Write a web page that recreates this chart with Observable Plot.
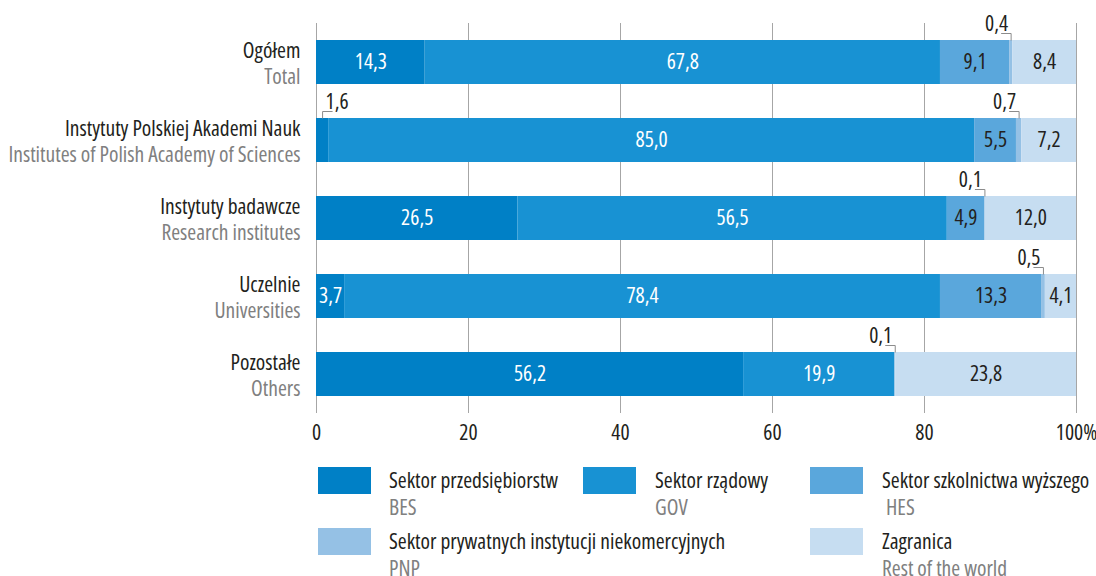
<!DOCTYPE html>
<html>
<head>
<meta charset="utf-8">
<script src="https://cdn.jsdelivr.net/npm/d3@7"></script>
<script src="https://cdn.jsdelivr.net/npm/@observablehq/plot@0.6"></script>
<style>
  html, body { margin: 0; padding: 0; background: #fff; }
  #wrap { position: relative; width: 1096px; height: 576px; font-family: "Open Sans", sans-serif; font-stretch: 86%; font-size: 21.5px; color: #231f20; }
  #chart { position: absolute; left: 0; top: 0; }
  #chart svg text { font-stretch: 86%; }
  .sw { position: absolute; width: 53px; height: 27px; }
  .lg { position: absolute; line-height: 27px; white-space: nowrap; }
  .lg .en { color: #808080; }
</style>
</head>
<body>
<div id="wrap">
  <div id="chart"></div>
  <div id="legend"></div>
</div>
<script>
// ---- data ----
const categoriesPL = ["Ogółem", "Instytuty Polskiej Akademi Nauk", "Instytuty badawcze", "Uczelnie", "Pozostałe"];
const categoriesEN = ["Total", "Institutes of Polish Academy of Sciences", "Research institutes", "Universities", "Others"];
const sectors = ["BES", "GOV", "HES", "PNP", "ROW"];
const sectorNamesPL = ["Sektor przedsiębiorstw", "Sektor rządowy", "Sektor szkolnictwa wyższego", "Sektor prywatnych instytucji niekomercyjnych", "Zagranica"];
const sectorNamesEN = ["BES", "GOV", "HES", "PNP", "Rest of the world"];
const sectorColors = ["#0080c6", "#1892d3", "#5aa7dc", "#95c1e5", "#c6ddf1"];
const valuesBES = [14.3, 1.6, 26.5, 3.7, 56.2];
const valuesGOV = [67.8, 85.0, 56.5, 78.4, 19.9];
const valuesHES = [9.1, 5.5, 4.9, 13.3, 0];
const valuesPNP = [0.4, 0.7, 0.1, 0.5, 0.1];
const valuesROW = [8.4, 7.2, 12.0, 4.1, 23.8];
const xTicks = [0, 20, 40, 60, 80, 100];

// ---- build table ----
const seriesValues = [valuesBES, valuesGOV, valuesHES, valuesPNP, valuesROW];
const segs = [];
categoriesPL.forEach((cat, i) => {
  let acc = 0;
  sectors.forEach((s, j) => {
    const v = seriesValues[j][i];
    segs.push({cat, sector: s, idx: j, value: v, x1: acc, x2: acc + v, center: acc + v / 2});
    acc += v;
  });
});
const fmt = v => v.toFixed(1).replace(".", ",");
const inside = segs.filter(d => d.value >= 2);
const insideLight = inside.filter(d => d.idx <= 1);
const insideDark = inside.filter(d => d.idx > 1);
const callouts = segs.filter(d => d.value > 0 && d.value < 2);
const calloutsLeft = callouts.filter(d => d.center >= 5);
const calloutsRight = callouts.filter(d => d.center < 5);
const rows = categoriesPL.map((pl, i) => ({pl, en: categoriesEN[i]}));

const bracketLeft = {draw(ctx) { ctx.moveTo(-10, -7); ctx.lineTo(0, -7); ctx.lineTo(0, 0); }};
const bracketRight = {draw(ctx) { ctx.moveTo(10, -7); ctx.lineTo(0, -7); ctx.lineTo(0, 0); }};

const chart = Plot.plot({
  width: 1096,
  height: 455,
  marginLeft: 316,
  marginRight: 20,
  marginTop: 23,
  marginBottom: 42,
  style: {fontFamily: '"Open Sans", sans-serif', fontSize: "21.5px", color: "#231f20", background: "white", overflow: "visible"},
  x: {domain: [0, 100], label: null},
  y: {domain: categoriesPL, paddingInner: 0.436, paddingOuter: 0.218, axis: null},
  color: {domain: sectors, range: sectorColors},
  marks: [
    Plot.gridX(xTicks, {stroke: "#a6a6a6", strokeOpacity: 1, strokeWidth: 1}),
    Plot.barX(segs, {x1: "x1", x2: "x2", y: "cat", fill: "sector"}),
    Plot.text(insideLight, {x: "center", y: "cat", text: d => fmt(d.value), fill: "white"}),
    Plot.text(insideDark, {x: "center", y: "cat", text: d => fmt(d.value), fill: "#231f20"}),
    Plot.dot(calloutsLeft, {x: "center", y: "cat", dy: -22, symbol: bracketLeft, stroke: "#8c8c8c", fill: "none", strokeWidth: 1}),
    Plot.dot(calloutsRight, {x: "center", y: "cat", dy: -22, symbol: bracketRight, stroke: "#8c8c8c", fill: "none", strokeWidth: 1}),
    Plot.text(calloutsLeft, {x: "center", y: "cat", dy: -38, dx: -3, textAnchor: "end", text: d => fmt(d.value), fill: "#231f20"}),
    Plot.text(calloutsRight, {x: "center", y: "cat", dy: -38, dx: 3, textAnchor: "start", text: d => fmt(d.value), fill: "#231f20"}),
    Plot.text(rows, {y: "pl", frameAnchor: "left", dx: -16, dy: -11, textAnchor: "end", text: "pl", fill: "#231f20"}),
    Plot.text(rows, {y: "pl", frameAnchor: "left", dx: -16, dy: 15, textAnchor: "end", text: "en", fill: "#808080"}),
    Plot.axisX({ticks: xTicks, tickFormat: d => d === 100 ? "100%" : String(d), tickSize: 0, tickPadding: 11, label: null, fill: "#231f20"})
  ]
});
document.getElementById("chart").appendChild(chart);

// ---- legend ----
const legendPos = [
  {sx: 318, sy: 467, tx: 389, ty: 466},
  {sx: 583, sy: 467, tx: 655, ty: 466},
  {sx: 810, sy: 467, tx: 882, ty: 466},
  {sx: 318, sy: 528, tx: 389, ty: 527},
  {sx: 810, sy: 528, tx: 882, ty: 527}
];
const legend = document.getElementById("legend");
sectors.forEach((s, i) => {
  const p = legendPos[i];
  const sw = document.createElement("div");
  sw.className = "sw";
  sw.style.left = p.sx + "px";
  sw.style.top = p.sy + "px";
  sw.style.background = sectorColors[i];
  legend.appendChild(sw);
  const t = document.createElement("div");
  t.className = "lg";
  t.style.left = p.tx + "px";
  t.style.top = p.ty + "px";
  const a = document.createElement("div"); a.textContent = sectorNamesPL[i];
  const b = document.createElement("div"); b.className = "en"; b.textContent = sectorNamesEN[i];
  if (s === "HES") b.style.paddingLeft = "4px";
  t.appendChild(a); t.appendChild(b);
  legend.appendChild(t);
});
</script>
</body>
</html>
